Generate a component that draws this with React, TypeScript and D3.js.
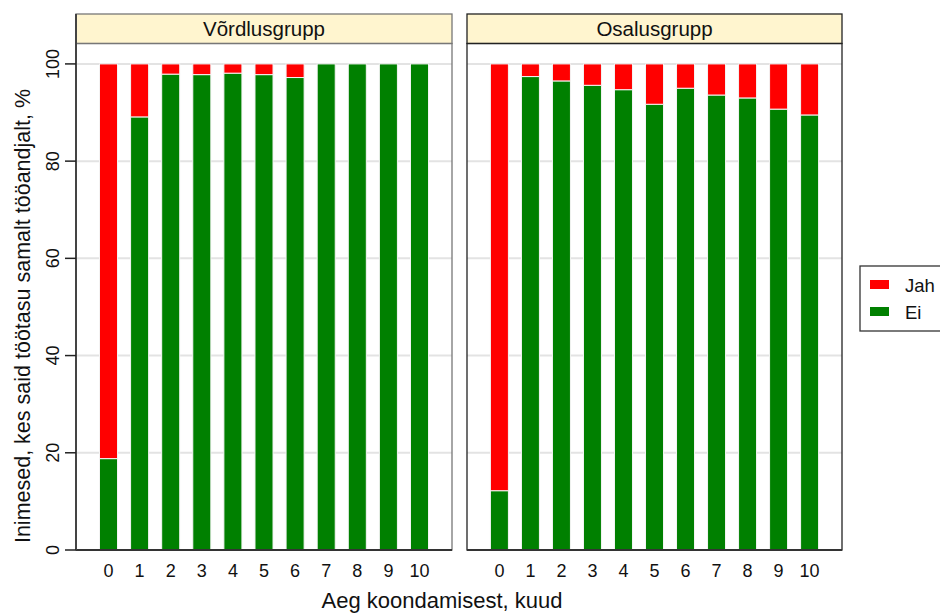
import React from "react";
import * as d3 from "d3";

// Months since layoff
const months = ["0", "1", "2", "3", "4", "5", "6", "7", "8", "9", "10"];

// Share (%) of people who received wages from the same employer
const vordlusJah = [81.2, 10.9, 2.1, 2.2, 1.9, 2.2, 2.8, 0, 0, 0, 0];
const vordlusEi = [18.8, 89.1, 97.9, 97.8, 98.1, 97.8, 97.2, 100, 100, 100, 100];
const osalusJah = [87.8, 2.6, 3.5, 4.4, 5.3, 8.3, 5.0, 6.4, 7.0, 9.3, 10.5];
const osalusEi = [12.2, 97.4, 96.5, 95.6, 94.7, 91.7, 95.0, 93.6, 93.0, 90.7, 89.5];

const panelNames = ["Võrdlusgrupp", "Osalusgrupp"];
const seriesNames = ["Jah", "Ei"];
const yTicks = [0, 20, 40, 60, 80, 100];

const colors: Record<string, string> = { Jah: "#ff0000", Ei: "#008000" };
const FONT = "Liberation Sans, Arial, sans-serif";

const W = 940;
const H = 614;
const panelTop = 43.5;
const panelBottom = 550;
const stripTop = 14;
const panelsX: [number, number][] = [
  [76, 452],
  [467, 842],
];

const panelData = [
  { name: panelNames[0], jah: vordlusJah, ei: vordlusEi },
  { name: panelNames[1], jah: osalusJah, ei: osalusEi },
];

export default function App() {
  const y = d3.scaleLinear().domain([0, 104.2]).range([panelBottom, panelTop]);

  return (
    <svg width={W} height={H} style={{ display: "block", position: "absolute", left: 0, top: 0 }}>
      <rect width={W} height={H} fill="#ffffff" />
      {panelData.map((p, pi) => {
        const [x0, x1] = panelsX[pi];
        const x = d3
          .scaleBand<string>()
          .domain(months)
          .range([x0, x1])
          .paddingInner(0.42)
          .paddingOuter(0.755);
        const rows = months.map((m, i) => ({ m, Ei: p.ei[i], Jah: p.jah[i] }));
        const stacked = d3.stack<any>().keys(["Ei", "Jah"])(rows);
        return (
          <g key={p.name}>
            {/* strip */}
            <rect
              x={x0}
              y={stripTop}
              width={x1 - x0}
              height={panelTop - stripTop}
              fill="#fff5cf"
              stroke={pi === 0 ? "#777" : "#222"}
              strokeWidth={1.3}
            />
            <text
              x={(x0 + x1) / 2}
              y={(stripTop + panelTop) / 2 + 7}
              textAnchor="middle"
              fontFamily={FONT}
              fontSize={20.5}
              fill="#111"
            >
              {p.name}
            </text>
            {/* gridlines */}
            {yTicks.slice(1).map((t) => (
              <line
                key={t}
                x1={x0}
                x2={x1}
                y1={y(t)}
                y2={y(t)}
                stroke="#e3e3e3"
                strokeWidth={2}
              />
            ))}
            {/* bars */}
            {stacked.map((s) =>
              s.map((d, i) =>
                d[1] - d[0] > 0 ? (
                  <rect
                    key={s.key + i}
                    x={x(months[i])}
                    y={y(d[1])}
                    width={x.bandwidth()}
                    height={y(d[0]) - y(d[1])}
                    fill={colors[s.key]}
                    stroke="#f4f4f4"
                    strokeWidth={1}
                  />
                ) : null
              )
            )}
            {/* panel frame */}
            <rect
              x={x0}
              y={panelTop}
              width={x1 - x0}
              height={panelBottom - panelTop}
              fill="none"
              stroke={pi === 0 ? "#777" : "#222"}
              strokeWidth={1.3}
            />
            <line x1={x0} x2={x1} y1={panelBottom} y2={panelBottom} stroke="#333" strokeWidth={2} />
            {pi === 0 && (
              <line x1={x0} x2={x0} y1={stripTop} y2={panelBottom} stroke="#444" strokeWidth={2} />
            )}
            {/* x tick labels */}
            {months.map((m) => (
              <text
                key={m}
                x={(x(m) as number) + x.bandwidth() / 2}
                y={577}
                textAnchor="middle"
                fontFamily={FONT}
                fontSize={18}
                fill="#111"
              >
                {m}
              </text>
            ))}
          </g>
        );
      })}
      {/* y axis ticks and labels */}
      {yTicks.map((t) => (
        <g key={t}>
          <line x1={65} x2={76} y1={y(t)} y2={y(t)} stroke="#222" strokeWidth={1.5} />
          <text
            transform={`translate(59,${y(t)}) rotate(-90)`}
            textAnchor="middle"
            fontFamily={FONT}
            fontSize={18}
            fill="#111"
          >
            {t}
          </text>
        </g>
      ))}
      {/* axis titles */}
      <text
        transform={`translate(30,316) rotate(-90)`}
        textAnchor="middle"
        fontFamily={FONT}
        fontSize={21.5}
        fill="#111"
      >
        Inimesed, kes said töötasu samalt tööandjalt, %
      </text>
      <text x={442} y={608} textAnchor="middle" fontFamily={FONT} fontSize={22} fill="#111">
        Aeg koondamisest, kuud
      </text>
      {/* legend */}
      <rect x={860} y={266} width={90} height={65} fill="#ffffff" stroke="#333" strokeWidth={1.3} />
      {seriesNames.map((s, i) => (
        <g key={s}>
          <rect x={870} y={280 + i * 27} width={19} height={9} fill={colors[s]} />
          <text
            x={905}
            y={291.5 + i * 27}
            fontFamily={FONT}
            fontSize={18.5}
            fill="#111"
          >
            {s}
          </text>
        </g>
      ))}
    </svg>
  );
}
